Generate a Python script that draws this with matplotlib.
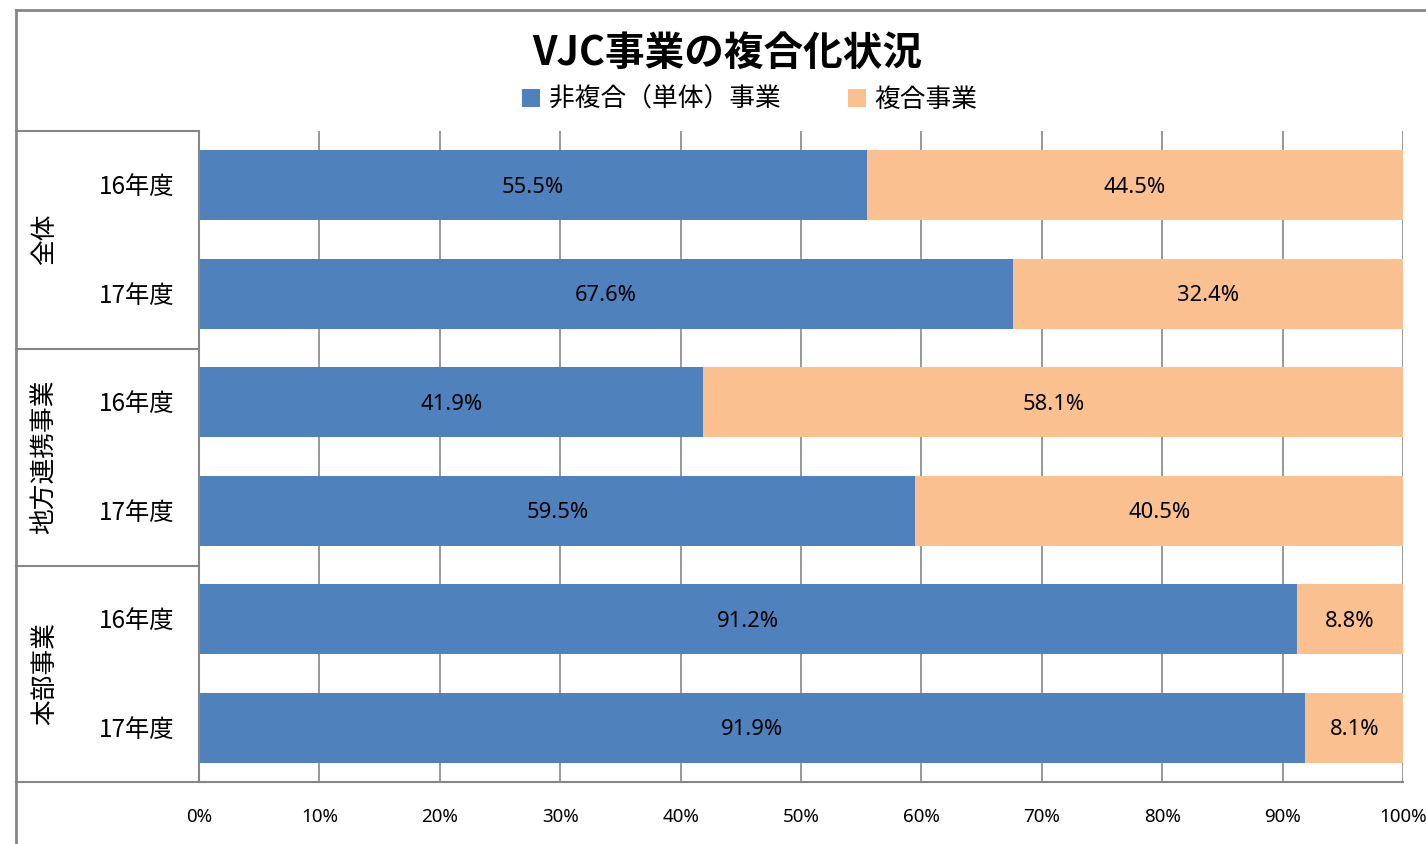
import matplotlib
matplotlib.use("Agg")
import matplotlib.pyplot as plt
from matplotlib.lines import Line2D
import matplotlib.transforms as mtransforms
import numpy as np

plt.rcParams['font.family'] = ['Noto Sans CJK JP', 'DejaVu Sans']

# ---- data ----
title = "VJC事業の複合化状況"
series_names = ["非複合（単体）事業", "複合事業"]
groups = ["全体", "地方連携事業", "本部事業"]
years = ["16年度", "17年度", "16年度", "17年度", "16年度", "17年度"]
single = [55.5, 67.6, 41.9, 59.5, 91.2, 91.9]
combined = [44.5, 32.4, 58.1, 40.5, 8.8, 8.1]
xticks = [0, 10, 20, 30, 40, 50, 60, 70, 80, 90, 100]

colors = ["#4F81BD", "#FAC090"]
grid_c = "#868686"

W, H = 1426, 844
fig = plt.figure(figsize=(W / 100, H / 100), dpi=100)

def fx(px):
    return px / W

def fy(py):
    return 1 - py / H

x0, x1, y0, y1 = 199, 1403, 131, 782
ax = fig.add_axes([fx(x0), fy(y1), fx(x1) - fx(x0), fy(y0) - fy(y1)])

n = len(years)
ypos = np.arange(n)
bh = 0.645
b1 = ax.barh(ypos, single, height=bh, color=colors[0], label=series_names[0], zorder=3)
b2 = ax.barh(ypos, combined, left=single, height=bh, color=colors[1], label=series_names[1], zorder=3)

lab_font = ["Noto Sans", "DejaVu Sans"]
for i in range(n):
    ax.text(single[i] / 2, ypos[i] + 0.02, f"{single[i]:.1f}%", ha="center", va="center",
            fontsize=15.8, family=lab_font, color="black", zorder=4)
    ax.text(single[i] + combined[i] / 2, ypos[i] + 0.02, f"{combined[i]:.1f}%", ha="center", va="center",
            fontsize=15.8, family=lab_font, color="black", zorder=4)

ax.set_xlim(0, 100)
ax.set_ylim(n - 0.5, -0.5)
ax.set_xticks(xticks)
ax.set_xticklabels([f"{t}%" for t in xticks], family=lab_font, fontsize=13.5)
ax.tick_params(axis="x", length=0, pad=19)
ax.set_yticks([])
for s in ax.spines.values():
    s.set_visible(False)
ax.grid(axis="x", color=grid_c, linewidth=1.2, zorder=0)
ax.set_axisbelow(True)

# category labels
for i in range(n):
    ax.text(-2.08, ypos[i] + 0.02, years[i], ha="right", va="center", fontsize=17.5,
            clip_on=False)

# group labels
btf = mtransforms.blended_transform_factory(fig.transFigure, ax.transData)
for g, name in enumerate(groups):
    ax.text(fx(45), (2 * g + 0.5), name, rotation=90, ha="center", va="center", fontsize=18.5,
            transform=btf, clip_on=False)

def hline(xa, xb, y, lw=1.5):
    fig.add_artist(Line2D([fx(xa), fx(xb)], [fy(y), fy(y)], transform=fig.transFigure,
                          color=grid_c, linewidth=lw))

def vline(x, ya, yb, lw=1.5):
    fig.add_artist(Line2D([fx(x), fx(x)], [fy(ya), fy(yb)], transform=fig.transFigure,
                          color=grid_c, linewidth=lw))

# outer border
hline(16, W, 10, lw=2)
vline(16, 10, H, lw=2)
# group boxes
for yy in [131, 349, 566]:
    hline(16, 199, yy)
hline(16, 1403, 782)
vline(199, 131, 782)

# title
fig.text(fx(727), fy(53), title, ha="center", va="center", fontsize=28.5, fontweight="bold")

# legend
fig.legend(handles=[b1, b2], labels=series_names, loc="center", ncol=2,
           bbox_to_anchor=(fx(750), fy(100)), frameon=False, fontsize=18.5,
           handlelength=0.7, handleheight=0.7, handletextpad=0.35, columnspacing=2.6,
           borderaxespad=0)

fig.savefig("out.png", dpi=100)
